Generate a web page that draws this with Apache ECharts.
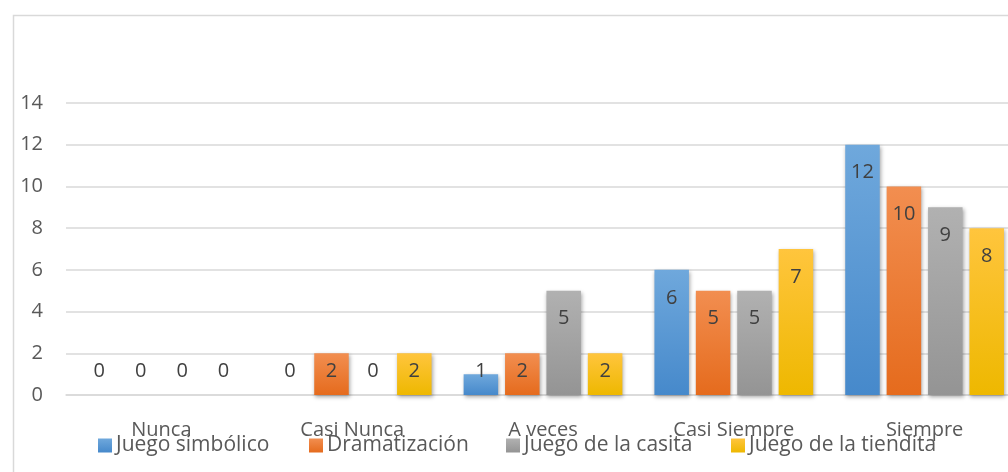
<!DOCTYPE html>
<html>
<head>
<meta charset="utf-8">
<script src="https://cdn.jsdelivr.net/npm/echarts@6/dist/echarts.min.js"></script>
<style>
html,body{margin:0;padding:0;background:#fff;overflow:hidden;width:1008px;height:472px;}
#chart{width:1032px;height:472px;}
</style>
</head>
<body>
<div id="chart"></div>
<script>
const categories = ['Nunca', 'Casi Nunca', 'A veces', 'Casi Siempre', 'Siempre'];
const seriesNames = ['Juego simbólico', 'Dramatización', 'Juego de la casita', 'Juego de la tiendita'];
const juegoSimbolico = [0, 0, 1, 6, 12];
const dramatizacion = [0, 2, 2, 5, 10];
const juegoCasita = [0, 0, 5, 5, 9];
const juegoTiendita = [0, 2, 2, 7, 8];
const yTicks = [0, 2, 4, 6, 8, 10, 12, 14];

const seriesValues = [juegoSimbolico, dramatizacion, juegoCasita, juegoTiendita];
const gradients = [
  ['#6fa8dc', '#4689cb'],
  ['#f28e50', '#e56b1d'],
  ['#b1b1b1', '#949494'],
  ['#ffc53d', '#eeb800']
];
const legendLefts = [98, 309, 506, 731];
const FONT = 'Open Sans';
const TXT = '#595959';

const chart = echarts.init(document.getElementById('chart'), null, {renderer: 'canvas'});

const series = seriesValues.map((vals, i) => ({
  name: seriesNames[i],
  type: 'bar',
  barGap: '20%',
  barCategoryGap: '16.8%',
  itemStyle: {
    color: new echarts.graphic.LinearGradient(0, 0, 0, 1, [
      {offset: 0, color: gradients[i][0]},
      {offset: 1, color: gradients[i][1]}
    ]),
    shadowBlur: 4,
    shadowColor: 'rgba(0,0,0,0.35)',
    shadowOffsetX: 1,
    shadowOffsetY: 2
  },
  label: {
    show: true,
    fontFamily: FONT,
    fontSize: 20,
    color: '#404040'
  },
  data: vals.map(v => ({
    value: v,
    label: v <= 2 ? {position: 'insideBottom', distance: 14} : {position: 'insideTop', distance: 18}
  }))
}));

const legends = seriesNames.map((n, i) => ({
  data: [n],
  left: legendLefts[i],
  top: 435,
  padding: 0,
  itemWidth: 14,
  itemHeight: 14,
  icon: 'rect',
  itemGap: 0,
  textStyle: {fontFamily: FONT, fontSize: 21, color: TXT, padding: [0, 0, 0, -1]},
  selectedMode: false
}));

chart.setOption({
  animation: false,
  backgroundColor: '#fff',
  graphic: [{
    type: 'rect',
    left: 11,
    top: 13,
    shape: {width: 1200, height: 1000},
    style: {fill: 'none', stroke: '#d9d9d9', lineWidth: 1.5},
    silent: true,
    z: -1
  }],
  grid: {left: 66, width: 954, top: 103, bottom: 77, containLabel: false},
  legend: legends,
  xAxis: {
    type: 'category',
    data: categories,
    axisLine: {show: true, lineStyle: {color: '#d9d9d9', width: 1.5}},
    axisTick: {show: false},
    axisLabel: {fontFamily: FONT, fontSize: 20, color: TXT, margin: 25, interval: 0}
  },
  yAxis: {
    type: 'value',
    min: yTicks[0],
    max: yTicks[yTicks.length - 1],
    interval: yTicks[1] - yTicks[0],
    axisLine: {show: false},
    axisTick: {show: false},
    splitLine: {lineStyle: {color: '#d9d9d9', width: 1.5}},
    axisLabel: {fontFamily: FONT, fontSize: 20, color: TXT, margin: 23}
  },
  series: series
});
</script>
</body>
</html>
